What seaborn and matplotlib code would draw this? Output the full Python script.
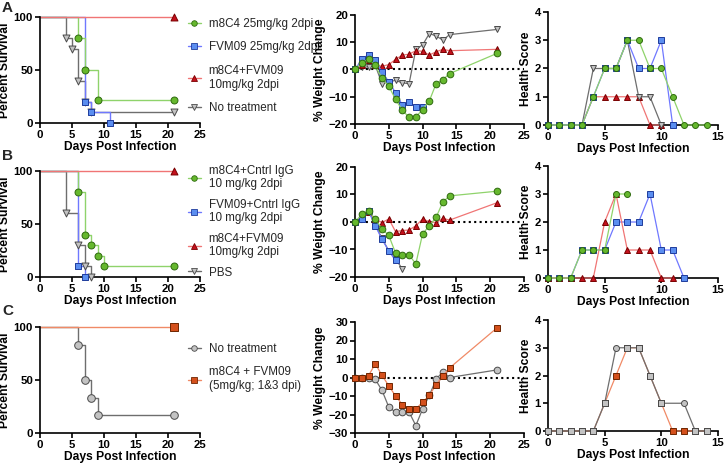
import matplotlib
matplotlib.use("Agg")
from matplotlib import pyplot as plt
from matplotlib.lines import Line2D
import seaborn as sns

# ---------------- data ----------------
# A: survival (event times / percent surviving)
a_s_m8c4_t = [0, 6, 7, 9, 21]
a_s_m8c4 = [100, 80, 50, 22, 22]
a_s_fvm_t = [0, 7, 8, 11]
a_s_fvm = [100, 20, 10, 0]
a_s_combo_t = [0, 21]
a_s_combo = [100, 100]
a_s_none_t = [0, 4, 5, 6, 7, 8, 21]
a_s_none = [100, 80, 70, 40, 20, 10, 10]

# A: weight change
a_w_days = [0, 1, 2, 3, 4, 5, 6, 7, 8, 9, 10, 11, 12, 13, 14, 21]
a_w_m8c4 = [0, 2.5, 3.7, 1.5, -3.3, -6.1, -11, -14.9, -17.6, -17.4, -14.7, -11.5, -5.2, -3.7, -1.5, 5.9]
a_w_fvm_days = [0, 1, 2, 3, 4, 5, 6, 7, 8, 9, 10]
a_w_fvm = [0, 3.7, 5.5, 3.4, -0.9, -4.5, -8.5, -13, -12, -13.7, -13.7]
a_w_combo = [0, 1.5, 3.5, 1.5, 1.2, 1.8, 3.7, 5.3, 5.6, 6.9, 6.7, 5.3, 6.5, 7.4, 6.9, 7.4]
a_w_none = [0, 0.8, 1.0, 1.5, -5.2, -4.5, -4, -4.9, -5.2, 7.4, 9, 13.2, 12.3, 10.8, 12.8, 14.7]

# A: health score
a_h_days = [0, 1, 2, 3, 4, 5, 6, 7, 8, 9, 10, 11, 12, 13, 14]
a_h_m8c4 = [0, 0, 0, 0, 1, 2, 2, 3, 3, 2, 2, 1, 0, 0, 0]
a_h_fvm_days = [0, 1, 2, 3, 4, 5, 6, 7, 8, 9, 10, 11]
a_h_fvm = [0, 0, 0, 0, 1, 2, 2, 3, 2, 2, 3, 0]
a_h_combo_days = [0, 1, 2, 3, 4, 5, 6, 7, 8, 9, 10]
a_h_combo = [0, 0, 0, 0, 1, 1, 1, 1, 1, 0, 0]
a_h_none = [0, 0, 0, 0, 2, 2, 2, 3, 1, 1, 0]

# B: survival
b_s_m8c4_t = [0, 6, 7, 8, 9, 10, 21]
b_s_m8c4 = [100, 80, 40, 30, 20, 10, 10]
b_s_fvm_t = [0, 6, 7]
b_s_fvm = [100, 10, 0]
b_s_combo_t = [0, 21]
b_s_combo = [100, 100]
b_s_pbs_t = [0, 4, 6, 7, 8]
b_s_pbs = [100, 60, 30, 10, 0]

# B: weight change
b_w_days = [0, 1, 2, 3, 4, 5, 6, 7, 8, 9, 10, 11, 12, 13, 14, 21]
b_w_m8c4 = [0, 2.8, 4.1, 1.1, -2.5, -4.9, -11.3, -12, -12, -15.2, -4.3, -1.4, 1.7, 7.3, 9.5, 11.2]
b_w_fvm_days = [0, 1, 2, 3, 4, 5, 6]
b_w_fvm = [0, 1.2, 4.0, -1.4, -6.3, -10.5, -14]
b_w_combo = [0, 2, 3.5, 1, -0.2, 1.1, -3.5, -3.1, -2.9, -1.4, 1.1, 0.1, -0.2, 1.3, 0.7, 7]
b_w_pbs_days = [0, 1, 2, 3, 4, 5, 6, 7]
b_w_pbs = [0, 2, 4, -1, -6, -10.5, -13.5, -17]

# B: health score
b_h_m8c4_days = [0, 1, 2, 3, 4, 5, 6, 7]
b_h_m8c4 = [0, 0, 0, 1, 1, 1, 3, 3]
b_h_fvm_days = [0, 1, 2, 3, 4, 5, 6, 7, 8, 9, 10, 11, 12]
b_h_fvm = [0, 0, 0, 1, 1, 1, 2, 2, 2, 3, 1, 1, 0]
b_h_combo_days = [0, 1, 2, 3, 4, 5, 6, 7, 8, 9, 10, 11]
b_h_combo = [0, 0, 0, 0, 0, 2, 3, 1, 1, 1, 0, 0]

# C: survival
c_s_none_t = [0, 6, 7, 8, 9, 21]
c_s_none = [100, 83, 50, 33, 17, 17]
c_s_combo_t = [0, 21]
c_s_combo = [100, 100]

# C: weight change
c_w_days = [0, 1, 2, 3, 4, 5, 6, 7, 8, 9, 10, 11, 12, 13, 14, 21]
c_w_none = [0, 0, 0, -1, -7, -16, -18.7, -18.7, -18.7, -26, -17, -9.7, -1, 3.2, 0, 4.1]
c_w_combo = [0, 0, 1, 7.4, 1.1, -4.5, -10, -14.6, -17, -17, -13.3, -9.7, -3.8, 0.7, 5.2, 26.8]

# C: health score
c_h_none_days = [0, 1, 2, 3, 4, 5, 6, 7, 8, 9, 10, 12, 13, 14]
c_h_none = [0, 0, 0, 0, 0, 1, 3, 3, 3, 2, 1, 1, 0, 0]
c_h_combo_days = [0, 1, 2, 3, 4, 5, 6, 7, 8, 9, 10, 11, 12, 13, 14]
c_h_combo = [0, 0, 0, 0, 0, 1, 2, 3, 3, 2, 1, 0, 0, 0, 0]

# ---------------- styles ----------------
# (line colour, marker fill, marker edge, marker)
GREEN = ("#8fd36b", "#66b82e", "#2e6a0e", "o")
BLUE = ("#6f78ff", "#5b8ef0", "#1f3c9c", "s")
RED = ("#f07575", "#c4101c", "#780000", "^")
GREY = ("#6e6e6e", "#c3c3c3", "#4a4a4a", "v")
GREYC = ("#6e6e6e", "#c3c3c3", "#4a4a4a", "o")
ORANGE = ("#f08a66", "#d4501c", "#6e2500", "s")

sns.set_theme(style="ticks")
plt.rcParams["font.family"] = ["Liberation Sans", "DejaVu Sans"]
plt.rcParams["font.weight"] = "bold"
plt.rcParams["axes.labelweight"] = "bold"
plt.rcParams["axes.linewidth"] = 1.2
plt.rcParams["axes.edgecolor"] = "black"
plt.rcParams["xtick.major.width"] = 1.2
plt.rcParams["ytick.major.width"] = 1.2
plt.rcParams["xtick.major.size"] = 3.5
plt.rcParams["ytick.major.size"] = 3.5
plt.rcParams["xtick.color"] = "black"
plt.rcParams["ytick.color"] = "black"
plt.rcParams["xtick.labelsize"] = 8.2
plt.rcParams["ytick.labelsize"] = 8.2
plt.rcParams["axes.labelsize"] = 8.7
plt.rcParams["axes.labelcolor"] = "black"

W, H = 725, 465
fig = plt.figure(figsize=(W / 100, H / 100), dpi=100)


def add_ax(l, t, r, b):
    return fig.add_axes([l / W, 1 - b / H, (r - l) / W, (b - t) / H])


def finish(ax, ylabel):
    sns.despine(ax=ax)
    ax.set_xlabel("Days Post Infection", labelpad=1)
    ax.set_ylabel(ylabel, labelpad=2)
    ax.tick_params(pad=1.5)


def surv(ax, t, s, st, ms=5):
    line, fill, edge, mk = st
    sns.lineplot(x=t, y=s, ax=ax, color=line, lw=1.0, drawstyle="steps-post",
                 clip_on=False, zorder=2)
    sns.scatterplot(x=t[1:], y=s[1:], ax=ax, marker=mk, color=fill, edgecolor=edge,
                    linewidth=0.7, s=ms ** 2, clip_on=False, zorder=3)


def series(ax, x, y, st, ms=4.8, lw=0.9):
    line, fill, edge, mk = st
    sns.lineplot(x=x, y=y, ax=ax, color=line, lw=lw, marker=mk, markersize=ms,
                 markerfacecolor=fill, markeredgecolor=edge, markeredgewidth=0.7,
                 clip_on=False, zorder=3)


def survival_axes(ax):
    ax.set_xlim(0, 25)
    ax.set_ylim(0, 100)
    ax.set_xticks([0, 5, 10, 15, 20, 25])
    ax.set_yticks([0, 50, 100])
    finish(ax, "Percent Survival")


def weight_axes(ax, lim):
    ax.axhline(0, color="black", lw=1.5, ls=(0, (1, 1.6)), zorder=1)
    ax.set_xlim(0, 25)
    ax.set_ylim(-lim, lim)
    ax.set_xticks([0, 5, 10, 15, 20, 25])
    ax.set_yticks(list(range(-lim, lim + 1, 10)))
    finish(ax, "% Weight Change")


def health_axes(ax):
    ax.set_xlim(0, 15)
    ax.set_ylim(0, 4)
    ax.set_xticks([0, 5, 10, 15])
    ax.set_yticks([0, 1, 2, 3, 4])
    finish(ax, "Health Score")


def legend(ax, entries, top, spacing):
    handles = [Line2D([], [], color=st[0], lw=1.0, marker=st[3], markersize=4,
                      markerfacecolor=st[1], markeredgecolor=st[2], markeredgewidth=0.6)
               for _, st in entries]
    labels = [lab for lab, _ in entries]
    ax.legend(handles, labels, loc="upper left", bbox_to_anchor=(183 / W, 1 - top / H),
              bbox_transform=fig.transFigure, frameon=False, handlelength=1.1,
              handletextpad=0.7, labelspacing=spacing, borderaxespad=0,
              prop={"weight": "normal", "size": 8.4})


# ---------------- row A ----------------
ax = add_ax(40, 17, 200, 123)
surv(ax, a_s_none_t, a_s_none, GREY)
surv(ax, a_s_fvm_t, a_s_fvm, BLUE)
surv(ax, a_s_m8c4_t, a_s_m8c4, GREEN)
surv(ax, a_s_combo_t, a_s_combo, RED)
survival_axes(ax)
legend(ax, [("m8C4 25mg/kg 2dpi", GREEN), ("FVM09 25mg/kg 2dpi", BLUE),
            ("m8C4+FVM09\n10mg/kg 2dpi", RED), ("No treatment", GREY)], 13, 1.0)

ax = add_ax(355, 15, 524, 124)
series(ax, a_w_days, a_w_none, GREY)
series(ax, a_w_days, a_w_combo, RED)
series(ax, a_w_fvm_days, a_w_fvm, BLUE)
series(ax, a_w_days, a_w_m8c4, GREEN)
weight_axes(ax, 20)

ax = add_ax(548, 12, 718, 125)
series(ax, a_h_combo_days, a_h_combo, RED, ms=4.3)
series(ax, a_h_combo_days, a_h_none, GREY, ms=4.3)
series(ax, a_h_fvm_days, a_h_fvm, BLUE, ms=4.3)
series(ax, a_h_days, a_h_m8c4, GREEN, ms=4.3)
health_axes(ax)

# ---------------- row B ----------------
ax = add_ax(40, 171, 200, 277)
surv(ax, b_s_pbs_t, b_s_pbs, GREY)
surv(ax, b_s_fvm_t, b_s_fvm, BLUE)
surv(ax, b_s_m8c4_t, b_s_m8c4, GREEN)
surv(ax, b_s_combo_t, b_s_combo, RED)
survival_axes(ax)
legend(ax, [("m8C4+Cntrl IgG\n10 mg/kg 2dpi", GREEN), ("FVM09+Cntrl IgG\n10 mg/kg 2dpi", BLUE),
            ("m8C4+FVM09\n10mg/kg 2dpi", RED), ("PBS", GREY)], 160, 0.7)

ax = add_ax(355, 167, 524, 277)
series(ax, b_w_pbs_days, b_w_pbs, GREY)
series(ax, b_w_days, b_w_combo, RED)
series(ax, b_w_fvm_days, b_w_fvm, BLUE)
series(ax, b_w_days, b_w_m8c4, GREEN)
weight_axes(ax, 20)

ax = add_ax(548, 166, 718, 278)
series(ax, b_h_fvm_days, b_h_fvm, BLUE, ms=4.3)
series(ax, b_h_combo_days, b_h_combo, RED, ms=4.3)
series(ax, b_h_m8c4_days, b_h_m8c4, GREEN, ms=4.3)
health_axes(ax)

# ---------------- row C ----------------
ax = add_ax(40, 327, 200, 433)
surv(ax, c_s_none_t, c_s_none, GREYC, ms=5.5)
surv(ax, c_s_combo_t, c_s_combo, ORANGE, ms=5.5)
survival_axes(ax)
legend(ax, [("No treatment", GREYC), ("m8C4 + FVM09\n(5mg/kg; 1&3 dpi)", ORANGE)], 338, 1.0)

ax = add_ax(355, 322, 524, 433)
series(ax, c_w_days, c_w_none, GREYC)
series(ax, c_w_days, c_w_combo, ORANGE)
weight_axes(ax, 30)

ax = add_ax(548, 320, 718, 431)
series(ax, c_h_combo_days, c_h_combo, ORANGE, ms=4.3)
series(ax, c_h_none_days, c_h_none, GREYC, ms=4.3)
# where both groups share a score the points are drawn as grey squares
combo_at = dict(zip(c_h_combo_days, c_h_combo))
same_x = [d for d, v in zip(c_h_none_days, c_h_none) if combo_at.get(d) == v]
same_y = [combo_at[d] for d in same_x]
sns.scatterplot(x=same_x, y=same_y, ax=ax, marker="s", color=GREYC[1], edgecolor=GREYC[2],
                linewidth=0.7, s=20, clip_on=False, zorder=4)
health_axes(ax)

# panel letters
for letter, y in [("A", 8), ("B", 156), ("C", 311)]:
    fig.text(2 / W, 1 - y / H, letter, fontsize=11, fontweight="bold", va="center", ha="left")

fig.savefig("out.png", dpi=100)
